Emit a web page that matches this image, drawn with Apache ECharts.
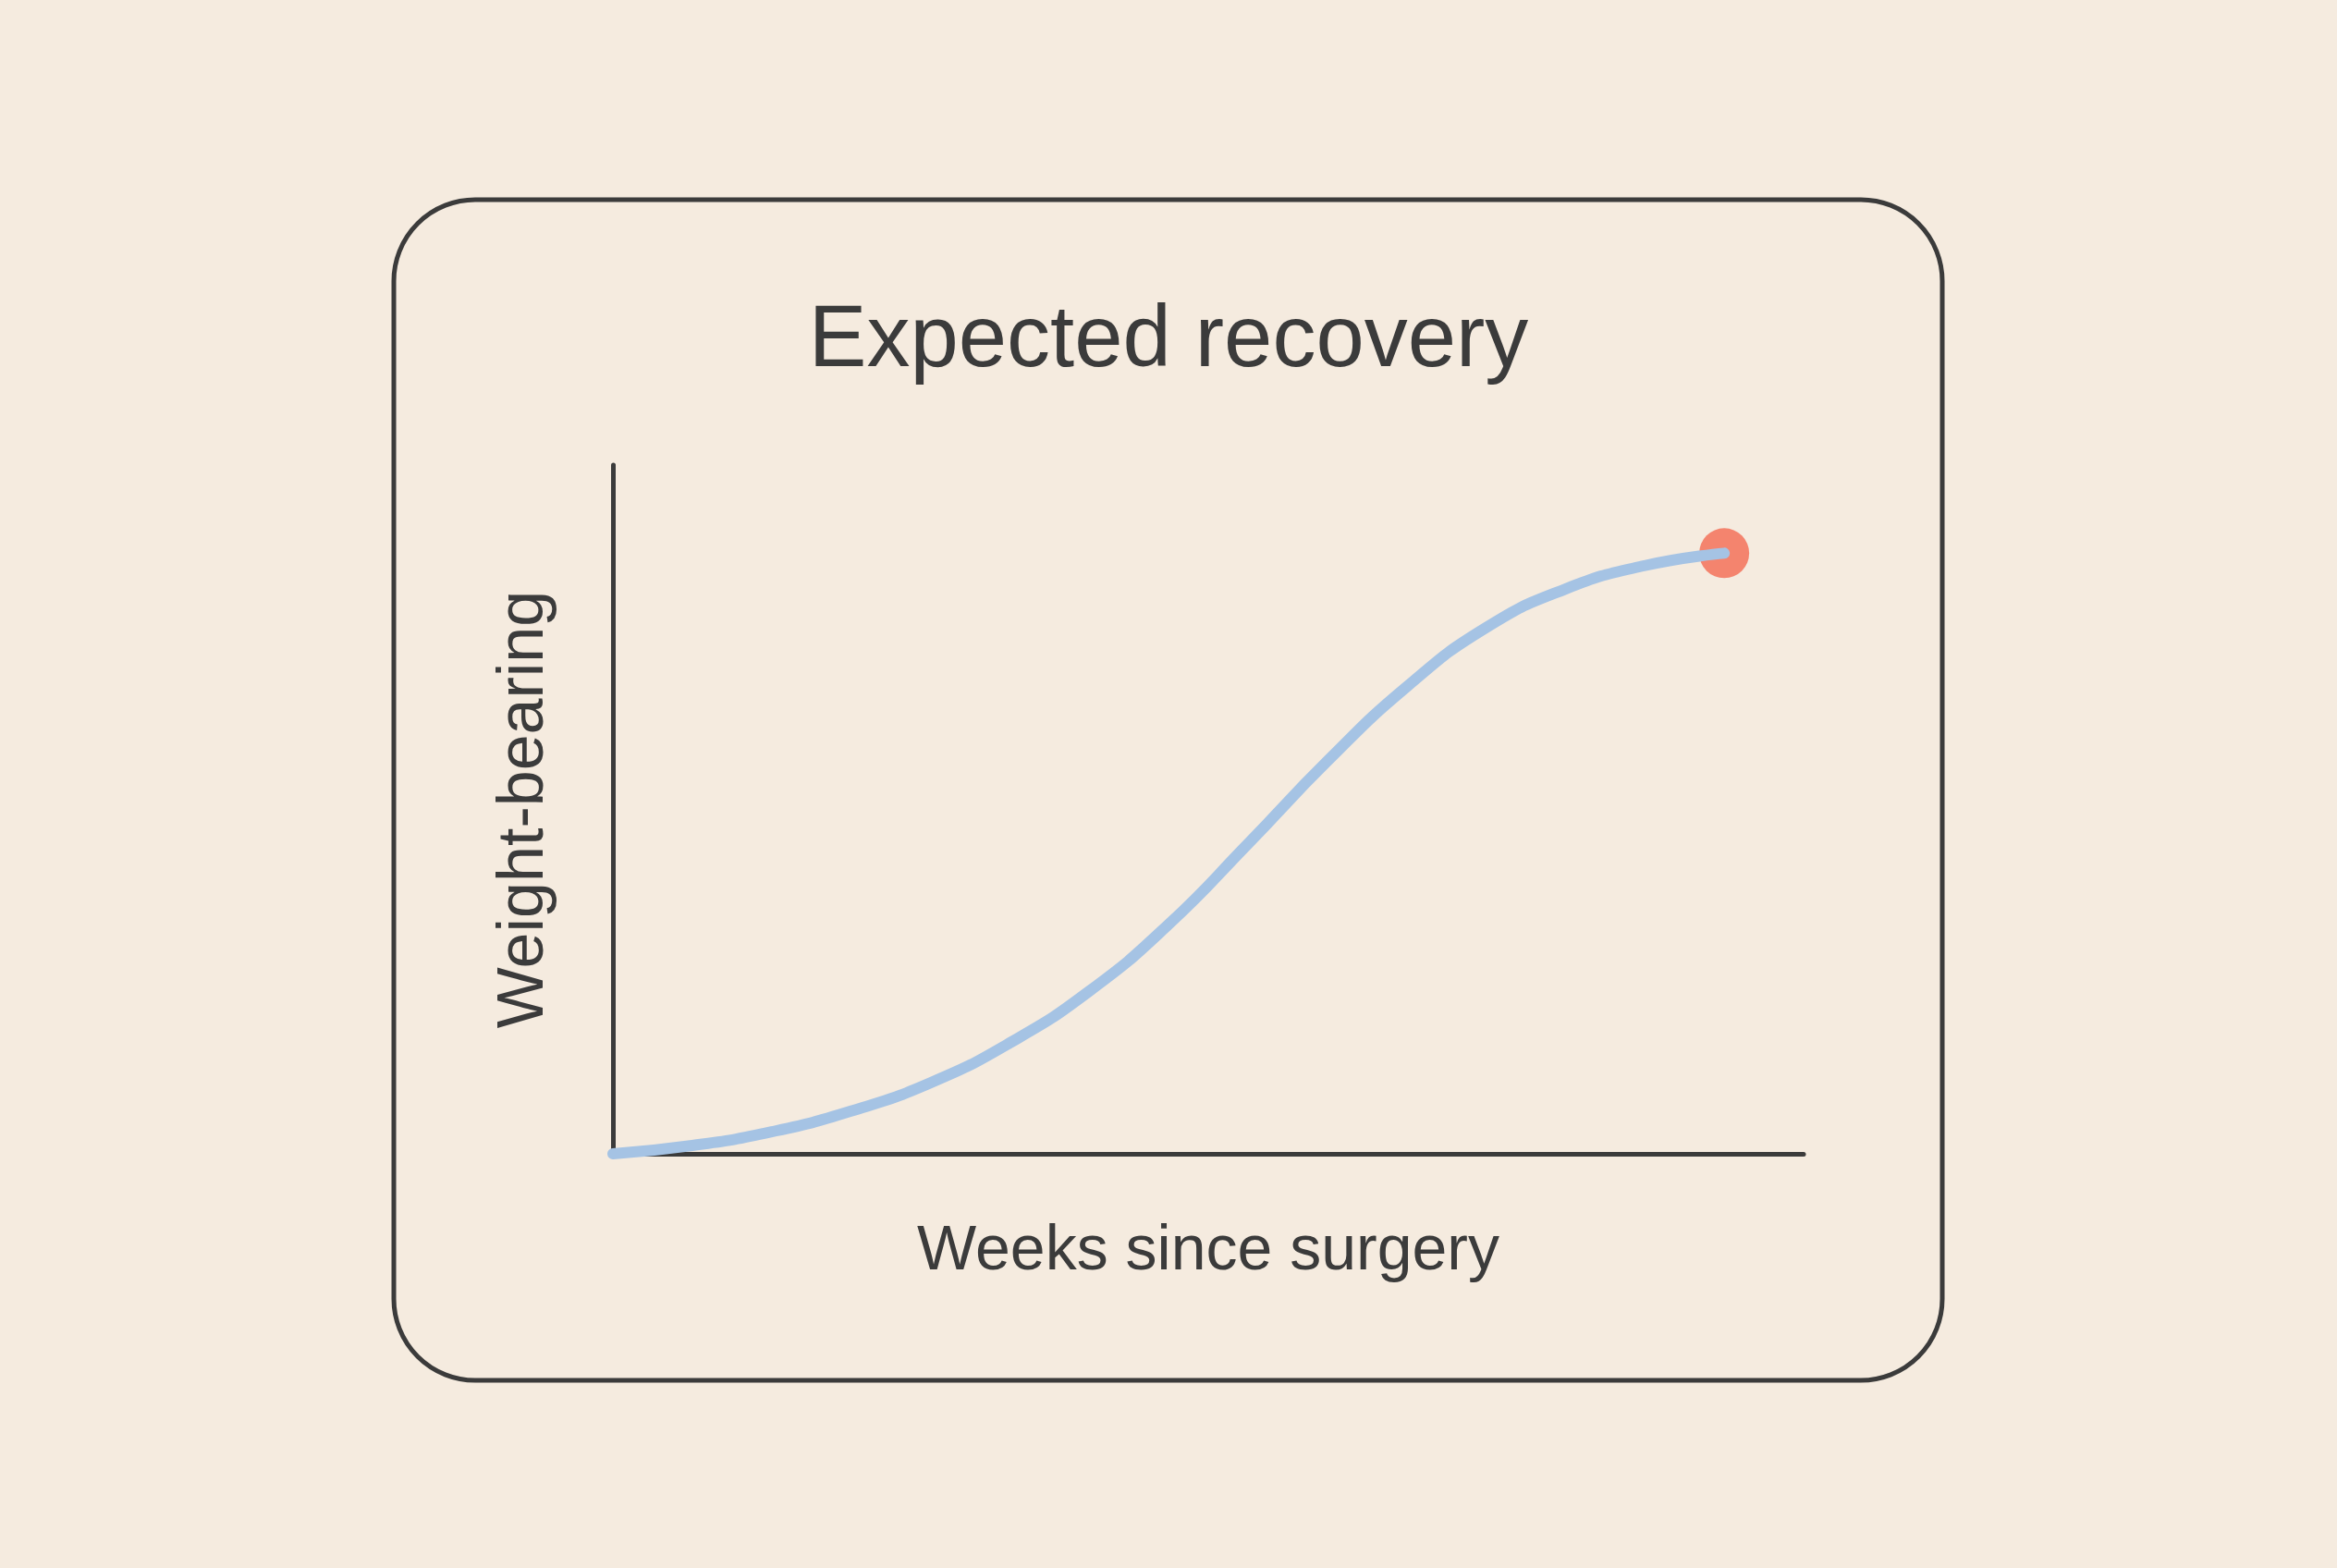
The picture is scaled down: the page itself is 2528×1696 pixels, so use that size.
<!DOCTYPE html>
<html>
<head>
<meta charset="utf-8">
<title>Expected recovery</title>
<script src="https://cdn.jsdelivr.net/npm/echarts@6/dist/echarts.min.js"></script>
<style>
  html, body { margin: 0; padding: 0; background: #f5ebdf; }
  #chart { width: 2528px; height: 1696px; }
</style>
</head>
<body>
<div id="chart"></div>
<script>
// weeks since surgery, and the weight-bearing
const weeks = [0, 1, 2, 3, 4, 5, 6, 7, 8, 9, 10, 11, 12, 13, 14]
const weightBearing = [0, 1.2, 3.2, 6.2, 10.3, 16.1, 23.6, 33.3, 45, 57, 67.8, 76.4, 82, 85.4, 87.2]
const xRange = [0, 15]
const yRange = [0, 100]

const ink = '#3b3b3b'
const font = 'Liberation Sans'

const curve = weeks.map((w, i) => [w, weightBearing[i]])
const last = curve[curve.length - 1]

const chart = echarts.init(document.getElementById('chart'))
chart.setOption({
  backgroundColor: '#f5ebdf',
  animation: false,
  title: {
    text: 'Expected recovery',
    left: 'center',
    top: 318,
    textStyle: { fontFamily: font, fontSize: 94, fontWeight: 'normal', color: ink }
  },
  graphic: [
    {
      // rounded frame around the whole chart
      type: 'rect',
      shape: { x: 426, y: 216, width: 1675, height: 1277, r: 88 },
      style: { fill: null, stroke: ink, lineWidth: 5 },
      silent: true
    }
  ],
  grid: { left: 663, right: 577, top: 503, bottom: 448 },
  xAxis: {
    type: 'value',
    min: xRange[0],
    max: xRange[1],
    name: 'Weeks since surgery',
    nameLocation: 'middle',
    nameGap: 72,
    nameTextStyle: { fontFamily: font, fontSize: 68, color: ink },
    axisLine: { show: true, onZero: false, lineStyle: { color: ink, width: 5 } },
    axisTick: { show: false },
    axisLabel: { show: false },
    splitLine: { show: false }
  },
  yAxis: {
    type: 'value',
    min: yRange[0],
    max: yRange[1],
    name: 'Weight-bearing',
    nameLocation: 'middle',
    nameGap: 60,
    nameTextStyle: { fontFamily: font, fontSize: 70, color: ink },
    axisLine: { show: true, onZero: false, lineStyle: { color: ink, width: 5 } },
    axisTick: { show: false },
    axisLabel: { show: false },
    splitLine: { show: false }
  },
  series: [
    {
      type: 'line',
      data: curve,
      smooth: 0.5,
      showSymbol: false,
      lineStyle: { color: '#a5c3e4', width: 12, cap: 'round', join: 'round' }
    },
    {
      type: 'scatter',
      data: [last],
      symbolSize: 54,
      itemStyle: { color: '#f4846e', opacity: 1 }
    }
  ]
})
</script>
</body>
</html>
